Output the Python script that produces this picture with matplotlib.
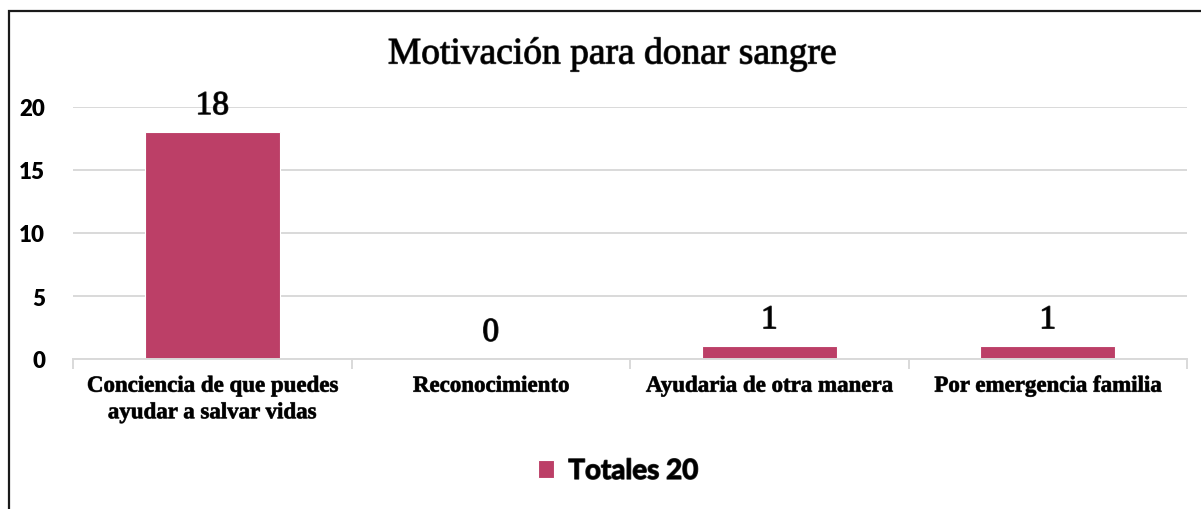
import matplotlib
matplotlib.use("Agg")
import matplotlib.pyplot as plt
from matplotlib.patches import Rectangle
from matplotlib.ticker import FixedLocator
import matplotlib.patheffects as pe

categories = ["Conciencia de que puedes\nayudar a salvar vidas", "Reconocimiento",
              "Ayudaria de otra manera", "Por emergencia familia"]
values = [18, 0, 1, 1]
y_ticks = [0, 5, 10, 15, 20]
series_name = "Totales 20"
title = "Motivación para donar sangre"

W, H = 1201, 510
fig = plt.figure(figsize=(W / 100, H / 100), dpi=100)
fig.patch.set_facecolor("white")

# outer chart frame (extends beyond right/bottom edges)
fig.patches.append(Rectangle((9 / W, -0.1), 1.2, 1 - 12 / H + 0.1, transform=fig.transFigure,
                             fill=False, edgecolor="#1a1a1a", linewidth=1.6))

ax = fig.add_axes([73 / W, 1 - 360 / H, (1187 - 73) / W, (360 - 108) / H])
bar_color = "#BC3F67"
x = list(range(len(categories)))
bars = ax.bar(x, values, width=0.485, color=bar_color, edgecolor="white", linewidth=0.8,
              zorder=3, label=series_name)

ax.set_xlim(-0.5, len(categories) - 0.5)
ax.set_ylim(0, 20)
ax.grid(axis="y", color="#d9d9d9", linewidth=1.4, zorder=0)
ax.set_axisbelow(True)
for s in ["top", "right", "left"]:
    ax.spines[s].set_visible(False)
ax.spines["bottom"].set_color("#d9d9d9")
ax.spines["bottom"].set_linewidth(1.4)
ax.spines["bottom"].set_zorder(4)

stroke = [pe.withStroke(linewidth=1.0, foreground="#333333")]

ax.set_yticks(y_ticks)
ax.set_yticklabels([str(t) for t in y_ticks], fontfamily="Lato", fontweight="heavy", fontsize=16)
ax.tick_params(axis="y", length=0, pad=20)

ax.set_xticks(x)
ax.set_xticklabels(categories, fontfamily="Liberation Serif", fontweight="bold", fontsize=16.5,
                   linespacing=1.35)
for lab in ax.get_xticklabels():
    lab.set_path_effects([pe.withStroke(linewidth=0.6, foreground="#444444")])
ax.tick_params(axis="x", which="major", length=0, pad=12)
ax.xaxis.set_minor_locator(FixedLocator([i - 0.5 for i in range(len(categories) + 1)]))
ax.tick_params(axis="x", which="minor", length=7, color="#d9d9d9", width=1.4)

for xi, v in zip(x, values):
    ax.annotate(str(v), (xi, v), xytext=(0, 8), textcoords="offset points",
                ha="center", va="bottom", fontfamily="Liberation Serif", fontsize=24,
                color="black", zorder=5, path_effects=stroke)

fig.text(612 / W, 1 - 55 / H, title, ha="center", va="center", fontfamily="Liberation Serif",
         fontsize=27, color="black", path_effects=[pe.withStroke(linewidth=0.9, foreground="#444444")])

leg = fig.legend(handles=[bars], labels=[series_name], loc="center", bbox_to_anchor=(618 / W, 1 - 472 / H),
                 frameon=False, handlelength=0.6, handleheight=0.6, handletextpad=0.5,
                 prop={"family": "Lato", "size": 20, "weight": "bold"})
for t in leg.get_texts():
    t.set_path_effects([pe.withStroke(linewidth=1.0, foreground="#333333")])

fig.savefig("out.png", dpi=100, facecolor="white")
